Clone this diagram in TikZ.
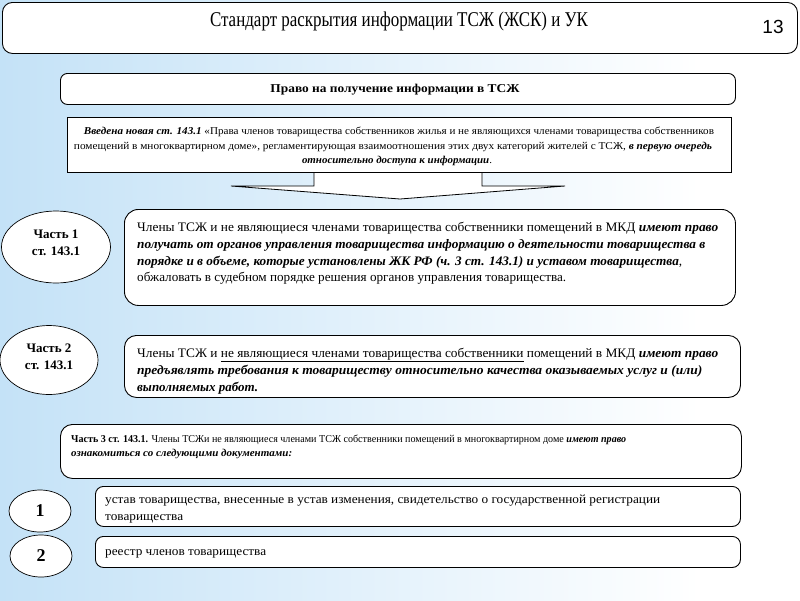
\documentclass[tikz,border=0pt]{standalone}
\usepackage{fontspec}
\usepackage{graphicx}
\setmainfont{Liberation Serif}
\newfontfamily\arialf{Liberation Sans}
\usetikzlibrary{shapes.geometric}
\definecolor{bgblue}{RGB}{196,226,247}
\newcommand\fitl[2]{\resizebox{#1pt}{\height}{#2}}
\newcommand\bi[1]{\textbf{\textit{#1}}}
\begin{document}
\begin{tikzpicture}[x=1pt,y=-1pt,
  box/.style={draw=black, line width=0.9pt, fill=white, rounded corners=9pt, inner sep=0pt, anchor=north west},
  sqbox/.style={draw=black, line width=0.9pt, fill=white, inner sep=0pt, anchor=north west},
  txt/.style={anchor=base west, inner sep=0pt},
  ctxt/.style={anchor=base, inner sep=0pt},
  oval/.style={draw=black, ellipse, fill=white, line width=0.7pt, inner sep=0pt, align=center}]
\useasboundingbox (0,0) rectangle (800,600);
\shade[left color=bgblue, right color=white] (0,0) rectangle (700,600);
\fill[white] (700,0) rectangle (800,600);
% title
\node[box, minimum width=795pt, minimum height=51pt, rounded corners=10pt] (top) at (2,2) {};
\node[ctxt] (title) at (399,26) {\fitl{378}{\fontsize{21}{23}\selectfont Стандарт раскрытия информации ТСЖ (ЖСК) и УК}};
\node[ctxt] (num) at (773,33) {\arialf\fontsize{19}{20}\selectfont 13};
% header
\node[box, minimum width=675pt, minimum height=31pt, rounded corners=7pt] (hdr) at (60,73) {};
\node[ctxt] (hdrt) at (395,92) {\fitl{249}{\fontsize{12}{13}\selectfont\bfseries Право на получение информации в ТСЖ}};
% arrow
\filldraw[fill=white, draw=black, line width=0.8pt] (314,170) -- (314,186) -- (231,186) -- (400,199) -- (565,186) -- (482,186) -- (482,170);
% intro box
\node[sqbox, minimum width=664pt, minimum height=55pt] (intro) at (67,117) {};
\node[ctxt] (i1) at (399,134) {\fitl{630}{\fontsize{10.5}{12}\selectfont \bi{Введена новая ст. 143.1} «Права членов товарищества собственников жилья и не являющихся членами товарищества собственников}};
\node[ctxt] (i2) at (393,149) {\fitl{638}{\fontsize{10.5}{12}\selectfont помещений в многоквартирном доме», регламентирующая взаимоотношения этих двух категорий жителей с ТСЖ, \bi{в первую очередь}}};
\node[ctxt] (i3) at (397,163) {\fitl{190}{\fontsize{10.5}{12}\selectfont \bi{относительно доступа к информации}.}};
% part 1
\node[oval, minimum width=109pt, minimum height=72pt] (e1) at (56,247) {};
\node[ctxt] (e1a) at (56,238) {\fontsize{13}{14}\selectfont\bfseries Часть 1};
\node[ctxt] (e1b) at (56,255) {\fontsize{13}{14}\selectfont\bfseries ст. 143.1};
\node[box, minimum width=611pt, minimum height=96pt, rounded corners=14pt] (b1) at (124,209) {};
\node[txt] (b1a) at (137,231) {\fitl{581}{\fontsize{13}{15}\selectfont Члены ТСЖ и не являющиеся членами товарищества собственники помещений в МКД \bi{имеют право}}};
\node[txt] (b1b) at (137,248) {\fitl{568}{\fontsize{13}{15}\selectfont \bi{получать от органов управления товарищества информацию о деятельности товарищества в}}};
\node[txt] (b1c) at (137,265) {\fitl{545}{\fontsize{13}{15}\selectfont \bi{порядке и в объеме, которые установлены ЖК РФ (ч. 3 ст. 143.1) и уставом товарищества},}};
\node[txt] (b1d) at (137,281) {\fitl{429}{\fontsize{13}{15}\selectfont обжаловать в судебном порядке решения органов управления товарищества.}};
% part 2
\node[oval, minimum width=98pt, minimum height=69pt] (e2) at (49,360) {};
\node[ctxt] (e2a) at (49,352) {\fontsize{13}{14}\selectfont\bfseries Часть 2};
\node[ctxt] (e2b) at (49,369) {\fontsize{13}{14}\selectfont\bfseries ст. 143.1};
\node[box, minimum width=616pt, minimum height=62pt, rounded corners=12pt] (b2) at (124,335) {};
\node[txt] (b2a) at (137,357) {\fitl{581}{\fontsize{13}{15}\selectfont Члены ТСЖ и \underline{не являющиеся членами товарищества собственники} помещений в МКД \bi{имеют право}}};
\node[txt] (b2b) at (137,374) {\fitl{565}{\fontsize{13}{15}\selectfont \bi{предъявлять требования к товариществу относительно качества оказываемых услуг и (или)}}};
\node[txt] (b2c) at (137,391) {\fitl{121}{\fontsize{13}{15}\selectfont \bi{выполняемых работ.}}};
% part 3
\node[box, minimum width=681pt, minimum height=54pt, rounded corners=12pt] (b3) at (60,424) {};
\node[txt] (b3a) at (71,442) {\fitl{555}{\fontsize{10.5}{12}\selectfont \textbf{Часть 3 ст. 143.1.} Члены ТСЖи не являющиеся членами ТСЖ собственники помещений в многоквартирном доме \bi{имеют право}}};
\node[txt] (b3b) at (71,456) {\fitl{221}{\fontsize{10.5}{12}\selectfont \bi{ознакомиться со следующими документами:}}};
% items
\node[oval, minimum width=62pt, minimum height=42pt] (c1) at (40,511) {\fontsize{18}{20}\selectfont\bfseries 1};
\node[box, minimum width=645pt, minimum height=40pt, rounded corners=8pt] (d1) at (95,486) {};
\node[txt] (d1a) at (105,503) {\fitl{555}{\fontsize{12.5}{14}\selectfont устав товарищества, внесенные в устав изменения, свидетельство о государственной регистрации}};
\node[txt] (d1b) at (105,520) {\fitl{78}{\fontsize{12.5}{14}\selectfont товарищества}};
\node[oval, minimum width=62pt, minimum height=42pt] (c2) at (41,556) {\fontsize{18}{20}\selectfont\bfseries 2};
\node[box, minimum width=645pt, minimum height=31pt, rounded corners=8pt] (d2) at (95,536) {};
\node[txt] (d2a) at (105,555) {\fitl{161}{\fontsize{12.5}{14}\selectfont реестр членов товарищества}};
\end{tikzpicture}
\end{document}
